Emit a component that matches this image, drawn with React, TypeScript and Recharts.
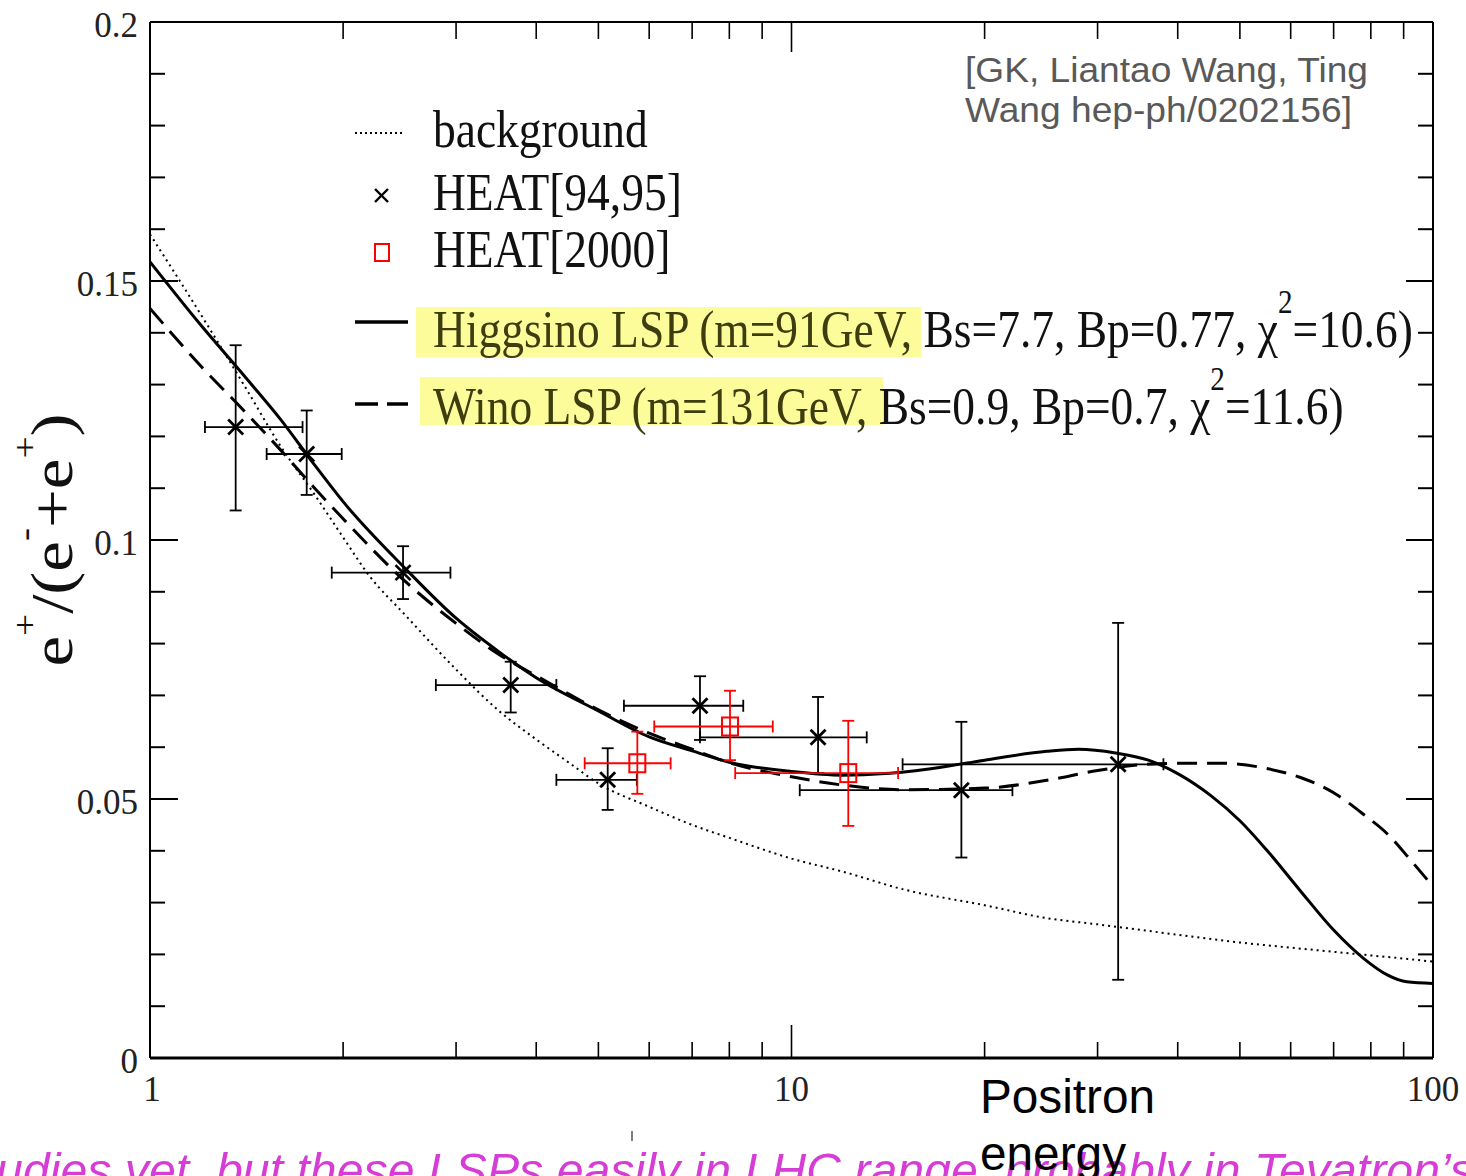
import React from "react";
import { ComposedChart, Line, Scatter, ErrorBar, XAxis, YAxis } from "recharts";

const W = 1466;
const H = 1176;

const serif = "'Liberation Serif', 'Times New Roman', serif";
const sans = "'Liberation Sans', Arial, sans-serif";

// positron energy ticks (log axis) and e+/(e- + e+) ticks
const xTicks = [1, 2, 3, 4, 5, 6, 7, 8, 9, 10, 20, 30, 40, 50, 60, 70, 80, 90, 100];
const xLabels = [1, 10, 100];
const yTicks = [
  0, 0.01, 0.02, 0.03, 0.04, 0.05, 0.06, 0.07, 0.08, 0.09, 0.1,
  0.11, 0.12, 0.13, 0.14, 0.15, 0.16, 0.17, 0.18, 0.19, 0.2,
];
const yLabels = [0, 0.05, 0.1, 0.15, 0.2];

// curves: [energy, fraction]
const background: [number, number][] = [
  [1, 0.159], [1.1, 0.151], [1.25, 0.14], [1.4, 0.13], [1.6, 0.118], [1.8, 0.109],
  [2, 0.1005], [2.2, 0.093], [2.5, 0.0855], [3, 0.075], [3.5, 0.067], [4, 0.0615],
  [4.5, 0.057], [5, 0.053], [6, 0.0485], [7, 0.045], [8, 0.0425], [10, 0.0385],
  [12, 0.036], [15, 0.0325], [20, 0.0295], [25, 0.027], [30, 0.0258], [40, 0.0238],
  [50, 0.0223], [60, 0.0213], [70, 0.0205], [80, 0.0198], [90, 0.0192], [100, 0.0186],
];

const higgsino: [number, number][] = [
  [1, 0.1537], [1.2, 0.1415], [1.4, 0.1318], [1.6, 0.1232], [1.8, 0.1147], [2, 0.1074],
  [2.5, 0.0945], [3, 0.0849], [3.5, 0.0784], [4, 0.0734], [5, 0.067], [6, 0.062],
  [7, 0.0593], [8, 0.0571], [10, 0.0553], [12, 0.0546], [14, 0.0549], [17, 0.0561],
  [20, 0.0575], [25, 0.0592], [28, 0.0596], [32, 0.0589], [36, 0.0575], [40, 0.0549],
  [45, 0.0507], [50, 0.0458], [55, 0.0402], [62, 0.0324], [70, 0.0247], [78, 0.0192],
  [85, 0.016], [91, 0.0147], [100, 0.0144],
];

const wino: [number, number][] = [
  [1, 0.1447], [1.2, 0.1336], [1.4, 0.125], [1.6, 0.1173], [1.8, 0.1102], [2, 0.1041],
  [2.5, 0.092], [3, 0.0839], [3.5, 0.0779], [4, 0.0738], [5, 0.0672], [6, 0.0627],
  [7, 0.0596], [8, 0.057], [10, 0.0543], [12, 0.0527], [15, 0.0518], [20, 0.0521],
  [25, 0.0536], [30, 0.0555], [35, 0.0566], [40, 0.0569], [47, 0.0569], [55, 0.0559],
  [62, 0.0542], [70, 0.0512], [78, 0.047], [85, 0.0432], [92, 0.0384], [100, 0.0331],
];

// measurements with bin edges (eLo..eHi) and error range (vLo..vHi)
const heat9495 = [
  { e: 1.36, v: 0.1218, eLo: 1.218, eHi: 1.729, vLo: 0.1057, vHi: 0.1376 },
  { e: 1.755, v: 0.1166, eLo: 1.52, eHi: 1.99, vLo: 0.1087, vHi: 0.125 },
  { e: 2.48, v: 0.0937, eLo: 1.92, eHi: 2.94, vLo: 0.0886, vHi: 0.0988 },
  { e: 3.65, v: 0.072, eLo: 2.79, eHi: 4.3, vLo: 0.0667, vHi: 0.0765 },
  { e: 5.17, v: 0.0537, eLo: 4.3, eHi: 5.74, vLo: 0.0479, vHi: 0.0598 },
  { e: 7.2, v: 0.068, eLo: 5.48, eHi: 8.41, vLo: 0.0614, vHi: 0.0737 },
  { e: 11.0, v: 0.0619, eLo: 7.2, eHi: 13.1, vLo: 0.055, vHi: 0.0697 },
  { e: 18.4, v: 0.0517, eLo: 10.3, eHi: 22.1, vLo: 0.0387, vHi: 0.0649 },
  { e: 32.3, v: 0.0567, eLo: 14.9, eHi: 38, vLo: 0.0151, vHi: 0.084 },
];

const heat2000 = [
  { e: 5.75, v: 0.0569, eLo: 4.76, eHi: 6.48, vLo: 0.051, vHi: 0.063 },
  { e: 8.02, v: 0.064, eLo: 6.11, eHi: 9.35, vLo: 0.0575, vHi: 0.0709 },
  { e: 12.26, v: 0.055, eLo: 8.17, eHi: 14.66, vLo: 0.0448, vHi: 0.0651 },
];

const toPts = (a: [number, number][]) => a.map(([e, v]) => ({ e, v }));
const xErr = (d: any) => [d.e - d.eLo, d.eHi - d.e];
const yErr = (d: any) => [d.v - d.vLo, d.vHi - d.v];

const isMajorY = (v: number) => Math.round(v * 100) % 5 === 0;
const fmtY = (v: number) => (v === 0 ? "0" : String(+v.toFixed(2)));

function LeftTick(p: any) {
  const v = p.payload.value as number;
  const major = isMajorY(v);
  return (
    <g>
      {v > 0 && v < 0.2 && (
        <line x1={p.x} x2={p.x + (major ? 28 : 15)} y1={p.y} y2={p.y} stroke="#000" strokeWidth={2} />
      )}
      {yLabels.includes(v) && (
        <text x={p.x - 12} y={p.y + 15} textAnchor="end" fontFamily={serif} fontSize={35} fill="#222">
          {fmtY(v)}
        </text>
      )}
    </g>
  );
}

function RightTick(p: any) {
  const v = p.payload.value as number;
  if (v <= 0 || v >= 0.2) return <g />;
  return <line x1={p.x} x2={p.x - (isMajorY(v) ? 27 : 15)} y1={p.y} y2={p.y} stroke="#000" strokeWidth={2} />;
}

function BottomTick(p: any) {
  const v = p.payload.value as number;
  return (
    <g>
      {v > 1 && v < 100 && (
        <line x1={p.x} x2={p.x} y1={p.y} y2={p.y - (v === 10 ? 33 : 16)} stroke="#000" strokeWidth={1.6} />
      )}
      {xLabels.includes(v) && (
        <text x={p.x + (v === 1 ? 2 : 0)} y={p.y + 43} textAnchor="middle" fontFamily={serif} fontSize={35} fill="#222">
          {v}
        </text>
      )}
    </g>
  );
}

function TopTick(p: any) {
  const v = p.payload.value as number;
  if (v <= 1 || v >= 100) return <g />;
  return <line x1={p.x} x2={p.x} y1={p.y} y2={p.y + (v === 10 ? 30 : 17)} stroke="#000" strokeWidth={1.6} />;
}

function Cross(p: any) {
  const { cx, cy } = p;
  const s = 7.5;
  return (
    <g stroke="#000" strokeWidth={2.8}>
      <line x1={cx - s} y1={cy - s} x2={cx + s} y2={cy + s} />
      <line x1={cx - s} y1={cy + s} x2={cx + s} y2={cy - s} />
    </g>
  );
}

function Square(p: any) {
  const { cx, cy } = p;
  return <rect x={cx - 8} y={cy - 9} width={16} height={18} fill="none" stroke="#ff0000" strokeWidth={2} />;
}

function Overlay() {
  const hl = "#3d3d10";
  return (
    <svg width={W} height={H} style={{ position: "absolute", left: 0, top: 0, pointerEvents: "none" }}>
      {/* y axis title */}
      <text transform="translate(72,540) rotate(-90) scale(1.15,1)" textAnchor="middle" fontFamily={serif} fontSize={60} fill="#111">
        e<tspan dy={-36} fontSize={34}>+</tspan>
        <tspan dy={36}>/(e</tspan>
        <tspan dy={-36} fontSize={34}>-</tspan>
        <tspan dy={36}>+e</tspan>
        <tspan dy={-36} fontSize={34}>+</tspan>
        <tspan dy={36}>)</tspan>
      </text>

      {/* citation */}
      <g fontFamily={sans} fontSize={35} fill="#595959">
        <text x={965} y={82} textLength={403} lengthAdjust="spacingAndGlyphs">[GK, Liantao Wang, Ting</text>
        <text x={965} y={122} textLength={387} lengthAdjust="spacingAndGlyphs">Wang hep-ph/0202156]</text>
      </g>

      {/* legend */}
      <rect x={416} y={307} width={505} height={50} fill="#fcfc9a" />
      <rect x={420} y={377} width={463} height={48} fill="#fcfc9a" />
      <line x1={355} x2={405} y1={133} y2={133} stroke="#000" strokeWidth={2} strokeDasharray="2 3" />
      <g stroke="#000" strokeWidth={2.4}>
        <line x1={375} y1={189} x2={388} y2={202} />
        <line x1={375} y1={202} x2={388} y2={189} />
      </g>
      <rect x={375} y={244} width={14} height={17} fill="none" stroke="#ff0000" strokeWidth={2} />
      <line x1={355} x2={408} y1={322} y2={322} stroke="#000" strokeWidth={3.5} />
      <line x1={355} x2={408} y1={404} y2={404} stroke="#000" strokeWidth={3.5} strokeDasharray="23 9" />
      <g transform="translate(433,0) scale(0.858,1)" fontFamily={serif} fontSize={53} fill="#111">
        <text x={0} y={147}>background</text>
        <text x={0} y={210}>HEAT[94,95]</text>
        <text x={0} y={267}>HEAT[2000]</text>
        <text x={0} y={347}>
          <tspan fill={hl}>Higgsino LSP (m=91GeV,</tspan>
          <tspan> Bs=7.7, Bp=0.77, χ</tspan>
          <tspan dy={-34} fontSize={34}>2</tspan>
          <tspan dy={34}>=10.6)</tspan>
        </text>
        <text x={0} y={424}>
          <tspan fill={hl}>Wino LSP (m=131GeV,</tspan>
          <tspan> Bs=0.9, Bp=0.7, χ</tspan>
          <tspan dy={-34} fontSize={34}>2</tspan>
          <tspan dy={34}>=11.6)</tspan>
        </text>
      </g>

      {/* slide text below the plot */}
      <line x1={632} x2={632} y1={1131} y2={1141} stroke="#555" strokeWidth={1.5} />
      <text x={-4} y={1187} fontFamily={sans} fontStyle="italic" fontSize={48} fill="#d63cd6" textLength={1478} lengthAdjust="spacingAndGlyphs">
        udies yet, but these LSPs easily in LHC range, probably in Tevatron’s
      </text>
      <g fontFamily={sans} fontSize={48} fill="#000">
        <text x={980} y={1113} textLength={175} lengthAdjust="spacingAndGlyphs">Positron</text>
        <text x={980} y={1170} textLength={146} lengthAdjust="spacingAndGlyphs">energy</text>
      </g>
    </svg>
  );
}

export default function App() {
  const axisCommon = {
    type: "number" as const,
    allowDataOverflow: true,
    interval: 0 as const,
    tickSize: 0,
    tickMargin: 0,
    tickLine: false,
  };
  return (
    <div style={{ position: "absolute", left: 0, top: 0, width: W, height: H, background: "#fff" }}>
      <ComposedChart width={W} height={H} margin={{ top: 21, right: 32, bottom: 117, left: 149 }}>
        <XAxis {...axisCommon} xAxisId="b" dataKey="e" scale="log" domain={[1, 100]} ticks={xTicks} height={1}
          axisLine={{ stroke: "#000", strokeWidth: 3 }} tick={(p: any) => <BottomTick {...p} />} />
        <XAxis {...axisCommon} xAxisId="t" orientation="top" dataKey="e" scale="log" domain={[1, 100]} ticks={xTicks} height={1}
          axisLine={{ stroke: "#000", strokeWidth: 2 }} tick={(p: any) => <TopTick {...p} />} />
        <YAxis {...axisCommon} yAxisId="l" dataKey="v" domain={[0, 0.2]} ticks={yTicks} width={1}
          axisLine={{ stroke: "#000", strokeWidth: 2 }} tick={(p: any) => <LeftTick {...p} />} />
        <YAxis {...axisCommon} yAxisId="r" orientation="right" dataKey="v" domain={[0, 0.2]} ticks={yTicks} width={1}
          axisLine={{ stroke: "#000", strokeWidth: 2 }} tick={(p: any) => <RightTick {...p} />} />

        <Line xAxisId="b" yAxisId="l" data={toPts(background)} dataKey="v" type="monotone" stroke="#000"
          strokeWidth={2} strokeDasharray="2 4" dot={false} isAnimationActive={false} />
        <Line xAxisId="b" yAxisId="l" data={toPts(wino)} dataKey="v" type="monotone" stroke="#000"
          strokeWidth={3} strokeDasharray="20 10" dot={false} isAnimationActive={false} />
        <Line xAxisId="b" yAxisId="l" data={toPts(higgsino)} dataKey="v" type="monotone" stroke="#000"
          strokeWidth={3} dot={false} isAnimationActive={false} />

        <Scatter xAxisId="b" yAxisId="l" data={heat9495} dataKey="v" shape={(p: any) => <Cross {...p} />} isAnimationActive={false}>
          <ErrorBar direction="x" dataKey={xErr} width={6} stroke="#000" strokeWidth={1.8} isAnimationActive={false} />
          <ErrorBar direction="y" dataKey={yErr} width={6} stroke="#000" strokeWidth={1.8} isAnimationActive={false} />
        </Scatter>
        <Scatter xAxisId="b" yAxisId="l" data={heat2000} dataKey="v" shape={(p: any) => <Square {...p} />} isAnimationActive={false}>
          <ErrorBar direction="x" dataKey={xErr} width={6} stroke="#ff0000" strokeWidth={1.8} isAnimationActive={false} />
          <ErrorBar direction="y" dataKey={yErr} width={6} stroke="#ff0000" strokeWidth={1.8} isAnimationActive={false} />
        </Scatter>
      </ComposedChart>
      <Overlay />
    </div>
  );
}
